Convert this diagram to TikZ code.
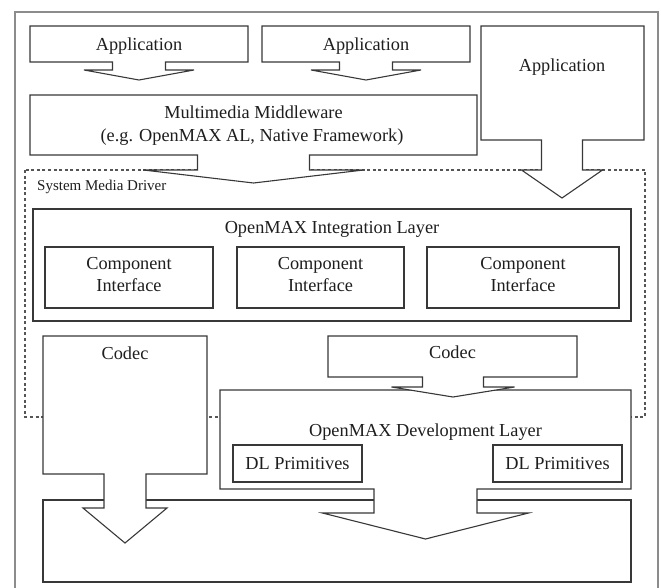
\documentclass[tikz,border=0pt]{standalone}
\usepackage{fontspec}
\setmainfont{Liberation Serif}
\definecolor{linec}{HTML}{383838}
\definecolor{framec}{HTML}{8C8C8C}
\definecolor{dashc}{HTML}{555555}
\definecolor{txtc}{HTML}{1E1E1E}
\tikzset{
  shapeline/.style={draw=linec, fill=white, line width=1.1pt, line join=miter},
  framebox/.style={draw=framec, line width=1.8pt},
  driverbox/.style={draw=dashc, line width=1.2pt, dash pattern=on 3pt off 2.6pt},
  lbl/.style={text=txtc, font=\fontsize{18.3}{22.5}\selectfont, inner sep=0pt, anchor=base},
  smalllbl/.style={text=txtc, font=\fontsize{15}{18}\selectfont, inner sep=0pt, anchor=base west}
}
% box with a block arrow below it: x1 y1 x2 y2 cx stemhalf wingY winghalf tipY
\newcommand\boxarrow[9]{%
  \draw[shapeline] (#1,#2) -- (#3,#2) -- (#3,#4) -- ({#5+#6},#4) -- ({#5+#6},#7)
    -- ({#5+#8},#7) -- (#5,#9) -- ({#5-#8},#7) -- ({#5-#6},#7) -- ({#5-#6},#4)
    -- (#1,#4) -- cycle;}
\begin{document}
\begin{tikzpicture}[x=1pt, y=-1pt]
\useasboundingbox (0,0) rectangle (661,587);
% outer frame (bottom edge outside the page)
\draw[framebox] (15,600) -- (15,12) -- (658,12) -- (658,600);
% System Media Driver region
\draw[driverbox] (25,170) rectangle (645,417);
\node[smalllbl] (smd) at (37,190) {System Media Driver};
% applications
\boxarrow{30}{26}{248}{62}{139}{26.5}{70}{55}{80}
\node[lbl] (app1) at (139,50) {Application};
\boxarrow{262}{26}{470}{62}{366}{26.5}{70}{55}{80}
\node[lbl] (app2) at (366,50) {Application};
\boxarrow{481}{26}{644}{140}{562}{20.5}{170}{40.5}{198}
\node[lbl] (app3) at (562,71) {Application};
% middleware
\boxarrow{30}{95}{477}{155}{253.5}{56}{170}{110}{183}
\node[lbl] (mw1) at (253.5,118) {Multimedia Middleware};
\node[lbl] (mw2) at (252,141) {(e.g. OpenMAX AL, Native Framework)};
% integration layer
\draw[shapeline] (33,209) rectangle (631,321);
\node[lbl] (il) at (332,233) {OpenMAX Integration Layer};
\draw[shapeline] (45,247) rectangle (213,308);
\node[lbl] (ci1a) at (129,269) {Component};
\node[lbl] (ci1b) at (129,291) {Interface};
\draw[shapeline] (237,247) rectangle (404,308);
\node[lbl] (ci2a) at (320.5,269) {Component};
\node[lbl] (ci2b) at (320.5,291) {Interface};
\draw[shapeline] (427,247) rectangle (619,308);
\node[lbl] (ci3a) at (523,269) {Component};
\node[lbl] (ci3b) at (523,291) {Interface};
% bottom (hardware) box
\draw[shapeline] (43,500) rectangle (631,582);
% development layer
\boxarrow{220}{390}{631}{489}{425.5}{51.5}{513}{103}{539}
\node[lbl] (dl) at (425.5,436) {OpenMAX Development Layer};
\draw[shapeline] (233,445) rectangle (362,482);
\node[lbl] (dlp1) at (297.5,469) {DL Primitives};
\draw[shapeline] (493,445) rectangle (622,482);
\node[lbl] (dlp2) at (557.5,469) {DL Primitives};
% codecs
\boxarrow{43}{336}{207}{474}{125}{21}{508}{42}{543}
\node[lbl] (codec1) at (125,359) {Codec};
\boxarrow{328}{336}{577}{377}{453}{30.5}{387}{61.5}{397}
\node[lbl] (codec2) at (452.5,358) {Codec};
\end{tikzpicture}
\end{document}
